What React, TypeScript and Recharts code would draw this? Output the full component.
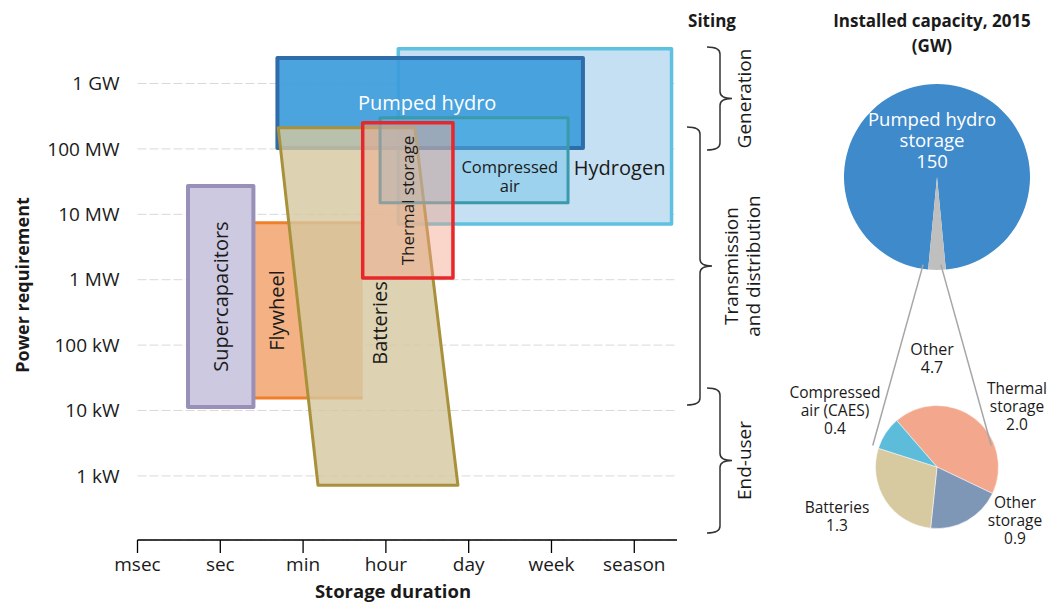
import React from 'react';
import { ComposedChart, XAxis, YAxis, CartesianGrid, ReferenceArea, PieChart, Pie, Cell } from 'recharts';

const FONT = '"Open Sans", sans-serif';
const INK = '#1a1a1a';

// storage duration axis: one unit per tick
const durationTicks = [0, 1, 2, 3, 4, 5, 6];
const durationLabels = ['msec', 'sec', 'min', 'hour', 'day', 'week', 'season'];

// power requirement axis (W), log scale
const powerTicks = [1e3, 1e4, 1e5, 1e6, 1e7, 1e8, 1e9];
const powerLabels = ['1 kW', '10 kW', '100 kW', '1 MW', '10 MW', '100 MW', '1 GW'];

// technologies, in drawing order
const technologies = ['Hydrogen', 'Pumped hydro', 'Flywheel', 'Batteries', 'Compressed\nair', 'Thermal storage', 'Supercapacitors'];
const durMinAtMaxPower = [3.15, 1.69, 1.36, 1.70, 2.93, 2.72, 0.61];
const durMaxAtMaxPower = [6.45, 5.38, 2.72, 3.35, 5.20, 3.81, 1.40];
const durMinAtMinPower = [3.15, 1.69, 1.36, 2.18, 2.93, 2.72, 0.61];
const durMaxAtMinPower = [6.45, 5.38, 2.72, 3.87, 5.20, 3.81, 1.40];
const powerMin = [7.1e6, 1.03e8, 1.55e4, 7.2e2, 1.5e7, 1.06e6, 1.13e4];
const powerMax = [3.4e9, 2.45e9, 7.4e6, 2.1e8, 3.0e8, 2.5e8, 2.7e7];

// installed capacity 2015 (GW)
const capacityNames = ['Pumped hydro\nstorage', 'Other'];
const capacityValues = [150, 4.7];
const otherNames = ['Thermal\nstorage', 'Other\nstorage', 'Batteries', 'Compressed\nair (CAES)'];
const otherValues = [2.0, 0.9, 1.3, 0.4];

// siting
const sitingNames = ['Generation', 'Transmission\nand distribution', 'End-user'];

const areaStyles = [
  { fill: '#C5E0F2', op: 1, stroke: '#5EC1E0', sw: 3.5, color: INK, size: 20, lh: 21, rot: false, lx: 0.81, ly: 0.68, sides: 'all' },
  { fill: '#3D9CDB', op: 0.92, stroke: '#2F6DAA', sw: 4, color: '#ffffff', size: 20, lh: 21, rot: false, lx: 0.49, ly: 0.5, sides: 'all' },
  { fill: '#F4B183', op: 1, stroke: '#F07F2A', sw: 3, color: INK, size: 20, lh: 21, rot: true, lx: 0.24, ly: 0.5, sides: 'tb' },
  { fill: '#D4C79F', op: 0.8, stroke: '#A8913A', sw: 3, color: INK, size: 20, lh: 21, rot: true, lx: 0.567, ly: 0.546, sides: 'all' },
  { fill: '#5FBFE8', op: 0.4, stroke: '#3A9AAB', sw: 3, color: INK, size: 16.5, lh: 19, rot: false, lx: 0.69, ly: 0.69, sides: 'all' },
  { fill: '#F4A58A', op: 0.45, stroke: '#E8272B', sw: 3.5, color: INK, size: 17, lh: 18, rot: true, lx: 0.5, ly: 0.5, sides: 'all' },
  { fill: '#CDC9E1', op: 1, stroke: '#9890B8', sw: 4, color: INK, size: 20, lh: 21, rot: true, lx: 0.5, ly: 0.5, sides: 'all' },
];

const bigColors = ['#3F8ACB', '#BFBFBF'];
const smallColors = ['#F3A88D', '#7E97B7', '#D7C9A0', '#5CBCD9'];

const PLOT_TOP = 40;

const makeShape = (i: number) => (props: any) => {
  const { x, y, width, height } = props;
  const st = areaStyles[i];
  const lo = Math.min(durMinAtMaxPower[i], durMinAtMinPower[i]);
  const hi = Math.max(durMaxAtMaxPower[i], durMaxAtMinPower[i]);
  const px = (d: number) => x + ((d - lo) / (hi - lo)) * width;
  const top = y;
  const bot = y + height;
  const tl = [px(durMinAtMaxPower[i]), top];
  const tr = [px(durMaxAtMaxPower[i]), top];
  const br = [px(durMaxAtMinPower[i]), bot];
  const bl = [px(durMinAtMinPower[i]), bot];
  const pts = [tl, tr, br, bl].map((p) => p.join(',')).join(' ');
  const cx = x + st.lx * width;
  const cy = y + st.ly * height;
  const lines = technologies[i].split('\n');
  const lh = st.lh;
  return (
    <g>
      <polygon
        points={pts}
        fill={st.fill}
        fillOpacity={st.op}
        stroke={st.sides === 'all' ? st.stroke : 'none'}
        strokeWidth={st.sw}
        strokeLinejoin="round"
      />
      {st.sides === 'tb' && (
        <g stroke={st.stroke} strokeWidth={st.sw}>
          <line x1={tl[0]} y1={top} x2={tr[0]} y2={top} />
          <line x1={bl[0]} y1={bot} x2={br[0]} y2={bot} />
        </g>
      )}
      <text
        x={cx}
        y={cy}
        textAnchor="middle"
        fontFamily={FONT}
        fontSize={st.size}
        fill={st.color}
        transform={st.rot ? `rotate(-90 ${cx} ${cy})` : undefined}
      >
        {lines.map((ln, k) => (
          <tspan key={k} x={cx} dy={k === 0 ? -((lines.length - 1) * lh) / 2 + st.size * 0.35 : lh}>
            {ln}
          </tspan>
        ))}
      </text>
    </g>
  );
};

// pie geometry
const PIE_LEFT = 780;
const BIG = { cx: 152, cy: 172, r: 93 };
const SMALL = { cx: 152, cy: 462, r: 61.5 };
const bigTotal = capacityValues.reduce((a, b) => a + b, 0);
const otherHalf = (180 * capacityValues[1]) / bigTotal;
const smallLabelAt = [
  [85, -73],
  [83, 41],
  [-95, 46],
  [-97, -69],
];

const multiline = (x: number, y: number, lines: string[], lh: number, size: number, fill: string) => (
  <text x={x} y={y} textAnchor="middle" fontFamily={FONT} fontSize={size} fill={fill}>
    {lines.map((ln, k) => (
      <tspan key={k} x={x} dy={k === 0 ? size * 0.35 : lh}>
        {ln}
      </tspan>
    ))}
  </text>
);

const bigLabel = (props: any) => {
  const i = props.index;
  if (i === 0) {
    return multiline(BIG.cx, BIG.cy - 52, [...capacityNames[0].split('\n'), String(capacityValues[0])], 21, 18.5, '#ffffff');
  }
  return multiline(SMALL.cx, SMALL.cy - 113, [capacityNames[1], capacityValues[1].toFixed(1)], 18.5, 16, INK);
};

const smallLabel = (props: any) => {
  const i = props.index;
  const [dx, dy] = smallLabelAt[i];
  return multiline(SMALL.cx + dx, SMALL.cy + dy, [...otherNames[i].split('\n'), otherValues[i].toFixed(1)], 18, 15.5, INK);
};

// connector lines from the "Other" wedge to tangents of the breakdown pie
const connectors = () => {
  const h = (otherHalf * Math.PI) / 180;
  const bx = PIE_LEFT + BIG.cx;
  const sx = PIE_LEFT + SMALL.cx;
  const out: number[][] = [];
  [-1, 1].forEach((s) => {
    const p = [bx + s * BIG.r * Math.sin(h), BIG.cy + BIG.r * Math.cos(h)];
    const vx = p[0] - sx;
    const vy = p[1] - SMALL.cy;
    const d = Math.hypot(vx, vy);
    const th = Math.atan2(vy, vx);
    const a = Math.acos(SMALL.r / d);
    const t = th + (s < 0 ? -a : a);
    out.push([p[0], p[1], sx + SMALL.r * Math.cos(t), SMALL.cy + SMALL.r * Math.sin(t)]);
  });
  return out;
};

const brace = (x0: number, y0: number, y1: number, depth: number, tip: number) => {
  const xv = x0 + depth;
  const xt = xv + tip;
  const ym = (y0 + y1) / 2;
  const c = 7;
  return `M${x0},${y0} Q${xv},${y0} ${xv},${y0 + c} L${xv},${ym - c} Q${xv},${ym} ${xt},${ym} Q${xv},${ym} ${xv},${ym + c} L${xv},${y1 - c} Q${xv},${y1} ${x0},${y1}`;
};
const braceLayout = [
  { x0: 707, y0: 47, y1: 150, lx: 744 },
  { x0: 687, y0: 127, y1: 405, lx: 742 },
  { x0: 707, y0: 388, y1: 533, lx: 744 },
];

// grid only on the labelled power ticks (skip the plot's top edge)
const gridLine = (p: any) => {
  if (p.y1 < PLOT_TOP + 20) return <g key={p.key} />;
  return <line key={p.key} x1={p.x1} y1={p.y1} x2={p.x2} y2={p.y2} stroke="#D9D9D9" strokeDasharray="9 3" />;
};

export default function App() {
  return (
    <div style={{ position: 'absolute', left: 0, top: 0, width: 1052, height: 602, background: '#fff', fontFamily: FONT }}>
      <div style={{ position: 'absolute', left: 0, top: 0 }}>
        <ComposedChart width={700} height={602} margin={{ top: PLOT_TOP, right: 23, bottom: 2, left: 0 }}>
          <CartesianGrid vertical={false} horizontal={gridLine} />
          <XAxis
            type="number"
            dataKey="x"
            domain={[0, 6.516]}
            ticks={durationTicks}
            allowDataOverflow
            tickFormatter={(v: number) => durationLabels[v] ?? ''}
            height={60}
            axisLine={{ stroke: '#000', strokeWidth: 1.3 }}
            tickLine={{ stroke: '#000', strokeWidth: 1.3 }}
            tickSize={13}
            tickMargin={5}
            tick={{ fontSize: 19, fill: INK, fontFamily: FONT }}
          />
          <YAxis
            type="number"
            scale="log"
            domain={[Math.pow(10, 2.02), Math.pow(10, 9.665)]}
            ticks={powerTicks}
            allowDataOverflow
            tickFormatter={(v: number) => powerLabels[powerTicks.indexOf(v)] ?? ''}
            width={137.5}
            axisLine={false}
            tickLine={false}
            tickSize={6}
            tickMargin={12}
            tick={{ fontSize: 19, fill: INK, fontFamily: FONT }}
          />
          {technologies.map((t, i) => (
            <ReferenceArea
              key={t}
              x1={Math.min(durMinAtMaxPower[i], durMinAtMinPower[i])}
              x2={Math.max(durMaxAtMaxPower[i], durMaxAtMinPower[i])}
              y1={powerMin[i]}
              y2={powerMax[i]}
              ifOverflow="visible"
              shape={makeShape(i)}
            />
          ))}
        </ComposedChart>
      </div>
      <div style={{ position: 'absolute', left: PIE_LEFT, top: 0 }}>
        <PieChart width={272} height={602}>
          <Pie
            data={capacityNames.map((n, i) => ({ name: n, value: capacityValues[i] }))}
            dataKey="value"
            nameKey="name"
            cx={BIG.cx}
            cy={BIG.cy}
            outerRadius={BIG.r}
            startAngle={-90 + otherHalf}
            endAngle={270 + otherHalf}
            stroke="none"
            label={bigLabel}
            labelLine={false}
            isAnimationActive={false}
          >
            {capacityNames.map((n, i) => (
              <Cell key={n} fill={bigColors[i]} />
            ))}
          </Pie>
          <Pie
            data={otherNames.map((n, i) => ({ name: n, value: otherValues[i] }))}
            dataKey="value"
            nameKey="name"
            cx={SMALL.cx}
            cy={SMALL.cy}
            outerRadius={SMALL.r}
            startAngle={131}
            endAngle={-229}
            stroke="#ffffff"
            strokeWidth={0.5}
            label={smallLabel}
            labelLine={false}
            isAnimationActive={false}
          >
            {otherNames.map((n, i) => (
              <Cell key={n} fill={smallColors[i]} />
            ))}
          </Pie>
        </PieChart>
      </div>
      <svg width={1052} height={602} style={{ position: 'absolute', left: 0, top: 0, pointerEvents: 'none' }}>
        <text x={22} y={285} transform="rotate(-90 22 285)" textAnchor="middle" dominantBaseline="central" fontFamily={FONT} fontWeight={700} fontSize={18} fill={INK}>
          Power requirement
        </text>
        <text x={393} y={598} textAnchor="middle" fontFamily={FONT} fontWeight={700} fontSize={18.5} fill={INK}>
          Storage duration
        </text>
        <text x={712} y={27} textAnchor="middle" fontFamily={FONT} fontWeight={700} fontSize={17} fill={INK}>
          Siting
        </text>
        <text x={932} y={27} textAnchor="middle" fontFamily={FONT} fontWeight={700} fontSize={17} fill={INK}>
          Installed capacity, 2015
        </text>
        <text x={932} y={52} textAnchor="middle" fontFamily={FONT} fontWeight={700} fontSize={17} fill={INK}>
          (GW)
        </text>
        {braceLayout.map((b, i) => {
          const lines = sitingNames[i].split('\n');
          const ym = (b.y0 + b.y1) / 2;
          return (
            <g key={i}>
              <path d={brace(b.x0, b.y0, b.y1, 13, 12)} fill="none" stroke="#333" strokeWidth={1.5} />
              <text x={b.lx} y={ym} transform={`rotate(-90 ${b.lx} ${ym})`} textAnchor="middle" fontFamily={FONT} fontSize={19} fill={INK}>
                {lines.map((ln, k) => (
                  <tspan key={k} x={b.lx} dy={k === 0 ? -((lines.length - 1) * 22) / 2 + 7 : 22}>
                    {ln}
                  </tspan>
                ))}
              </text>
            </g>
          );
        })}
        {connectors().map((c, i) => (
          <line key={i} x1={c[0]} y1={c[1]} x2={c[2]} y2={c[3]} stroke="#A6A6A6" strokeWidth={1.5} />
        ))}
      </svg>
    </div>
  );
}
